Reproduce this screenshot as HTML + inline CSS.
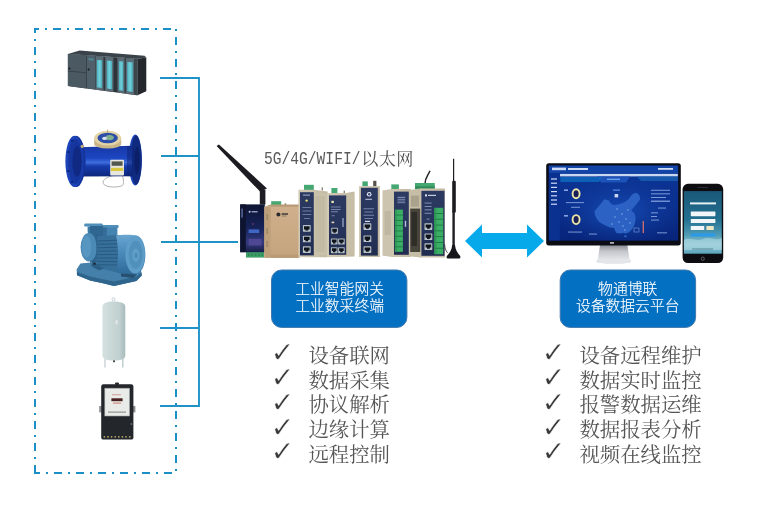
<!DOCTYPE html>
<html lang="zh-CN">
<head>
<meta charset="utf-8">
<title>工业智能网关 - 设备数据云平台</title>
<style>
html,body{margin:0;padding:0;background:#fff;}
body{width:763px;height:519px;overflow:hidden;position:relative;}
svg{position:absolute;left:0;top:0;display:block;will-change:transform;}
.song{font-family:"Liberation Serif","Noto Serif CJK SC",serif;}
.hei{font-family:"Liberation Sans","Noto Sans CJK SC",sans-serif;}
.chk{font-family:"DejaVu Sans","Liberation Sans",sans-serif;}
.label{will-change:transform;position:absolute;left:264.2px;top:144px;height:30px;white-space:nowrap;color:#505050;font-size:17.2px;line-height:30px;font-weight:400;font-family:"Liberation Mono","Noto Serif CJK SC",serif;letter-spacing:0.3px;}
.label .lat{display:inline-block;color:#5a5a5a;font-family:"Liberation Mono","Noto Serif CJK SC",monospace;font-size:14.62px;font-weight:400;letter-spacing:0;line-height:16px;height:16px;transform:scaleY(1.22);transform-origin:0 12px;margin-right:-0.1px;}
.label .cjk{font-family:"Liberation Serif","Noto Serif CJK SC",serif;position:relative;top:1.2px;left:0.9px;}
</style>
</head>
<body>
<svg width="763" height="519" viewBox="0 0 763 519">
<rect width="763" height="519" fill="#ffffff"/>

<!-- ===== dashed frame ===== -->
<g id="frame" stroke="#1a90c6" stroke-width="2" fill="none">
  <line x1="34" y1="29" x2="173" y2="29" stroke-dasharray="5 6 2 6 8 6 2 6 8 6 2 6 8 6 2 6 8 6 2 6 8 6 2 6 8 6 2 6 8 60"/>
  <line x1="176" y1="29" x2="176" y2="472" stroke-dasharray="2 6 8 6"/>
  <line x1="34" y1="473" x2="173" y2="473" stroke-dasharray="6 6 2 6 8 6 2 6 8 6 2 6 8 6 2 6 8 6 2 6 8 6 2 6 8 6 2 6 8 60"/>
  <line x1="35" y1="28" x2="35" y2="474" stroke-dasharray="5 6 2 6 8 6 2 6 8 6 2 6 8 6 2 6 8 6 2 6 8 6 2 6 8 6 2 6 8 6 2 6 8 6 2 6 8 6 2 6 8 6 2 6 8 6 2 6 8 6 2 6 8 6 2 6 8 6 2 6 8 6 2 6 8 6 2 6 8 6 2 6 8 6 2 6 8 6 2 6 8 6 2 6 8 6 2 6 8 6 2 6 9 60"/>
</g>

<!-- ===== connectors ===== -->
<g id="wires" stroke="#1f93c8" stroke-width="1.9" fill="none" stroke-linecap="butt">
  <path d="M160 78 H199 V406 H160"/>
  <path d="M161 156 H199"/>
  <path d="M161 242 H238"/>
  <path d="M160 328 H199"/>
</g>

<!-- ===== arrow ===== -->
<polygon id="arrow" fill="#06aaeb" points="465,241 482,224.5 482,233 527,233 527,224.5 544,241 527,257.5 527,249 482,249 482,257.5"/>

<!-- ===== blue boxes ===== -->
<rect x="271.5" y="270" width="135.4" height="57.4" rx="10" ry="10" fill="#0470c2" stroke="#3f78ae" stroke-width="1"/>
<rect x="560.2" y="270" width="135.4" height="57.4" rx="10" ry="10" fill="#0470c2" stroke="#3f78ae" stroke-width="1"/>
<g class="hei" font-size="14.8" fill="#ffffff" text-anchor="middle" font-weight="300" stroke="#ffffff" stroke-width="0.15">
  <text x="339.6" y="294.3">工业智能网关</text>
  <text x="339.6" y="311.2">工业数采终端</text>
  <text x="627.7" y="294.3">物通博联</text>
  <text x="627.7" y="311.2">设备数据云平台</text>
</g>

<!-- ===== check lists ===== -->
<g class="song" font-size="20.4" font-weight="400" fill="#555555">
  <text x="308.4" y="362.7">设备联网</text>
  <text x="308.4" y="387.5">数据采集</text>
  <text x="308.4" y="412.3">协议解析</text>
  <text x="308.4" y="437.1">边缘计算</text>
  <text x="308.4" y="461.9">远程控制</text>
  <text x="579.4" y="362.7">设备远程维护</text>
  <text x="579.4" y="387.5">数据实时监控</text>
  <text x="579.4" y="412.3">报警数据运维</text>
  <text x="579.4" y="437.1">数据报表分析</text>
  <text x="579.4" y="461.9">视频在线监控</text>
</g>
<g class="chk" font-size="24" fill="#3a3a3a" stroke="#ffffff" stroke-width="0.4">
  <text transform="translate(270.6 362.2) scale(1.2 1.18)" x="0" y="0">✓</text>
  <text transform="translate(270.6 387.0) scale(1.2 1.18)" x="0" y="0">✓</text>
  <text transform="translate(270.6 411.8) scale(1.2 1.18)" x="0" y="0">✓</text>
  <text transform="translate(270.6 436.6) scale(1.2 1.18)" x="0" y="0">✓</text>
  <text transform="translate(270.6 461.4) scale(1.2 1.18)" x="0" y="0">✓</text>
  <text transform="translate(541.6 362.2) scale(1.2 1.18)" x="0" y="0">✓</text>
  <text transform="translate(541.6 387.0) scale(1.2 1.18)" x="0" y="0">✓</text>
  <text transform="translate(541.6 411.8) scale(1.2 1.18)" x="0" y="0">✓</text>
  <text transform="translate(541.6 436.6) scale(1.2 1.18)" x="0" y="0">✓</text>
  <text transform="translate(541.6 461.4) scale(1.2 1.18)" x="0" y="0">✓</text>
</g>

<defs>
  <linearGradient id="gTeal" x1="0" x2="1" y1="0" y2="0">
    <stop offset="0" stop-color="#48b0be"/><stop offset=".5" stop-color="#74d0da"/><stop offset="1" stop-color="#46aebc"/>
  </linearGradient>
  <linearGradient id="gPlc" x1="0" x2="0" y1="0" y2="1">
    <stop offset="0" stop-color="#4b5961"/><stop offset="1" stop-color="#55646d"/>
  </linearGradient>
  <linearGradient id="gPipe" x1="0" x2="0" y1="0" y2="1">
    <stop offset="0" stop-color="#1838a6"/><stop offset=".4" stop-color="#1c46c2"/><stop offset=".54" stop-color="#3f6ddc"/><stop offset=".66" stop-color="#173cae"/><stop offset="1" stop-color="#0c257a"/>
  </linearGradient>
  <linearGradient id="gFl" x1="0" x2="1" y1="0" y2="0">
    <stop offset="0" stop-color="#2149c4"/><stop offset="1" stop-color="#12308f"/>
  </linearGradient>
  <linearGradient id="gMotor" x1="0" x2="0" y1="0" y2="1">
    <stop offset="0" stop-color="#6aa6d0"/><stop offset=".35" stop-color="#4f90c0"/><stop offset="1" stop-color="#2f6a98"/>
  </linearGradient>
  <linearGradient id="gTank" x1="0" x2="1" y1="0" y2="0">
    <stop offset="0" stop-color="#d6e1e1"/><stop offset=".3" stop-color="#ccd9d9"/><stop offset=".75" stop-color="#c0cfcf"/><stop offset="1" stop-color="#a9bbbc"/>
  </linearGradient>
</defs>

<!-- ===== PLC ===== -->
<g id="plc">
  <polygon points="67.9,54 79.7,50.6 144.6,55.8 146.3,57.6 137.5,58.8" fill="#3a434a"/>
  <polygon points="137.5,58.7 146.3,57.6 146.3,91.2 137.5,95.3" fill="#24282d"/>
  <polygon points="67.9,54.0 137.5,58.7 137.5,95.3 67.9,85.9" fill="#2c343a"/>
  <polygon points="67.9,54.0 86.4,55.2 86.4,88.4 67.9,85.9" fill="#4a5962"/>
  <polygon points="87.0,55.3 95.6,55.9 95.6,89.6 87.0,88.5" fill="#50606a"/>
  <polygon points="96.0,55.9 103.4,56.4 103.4,90.7 96.0,89.7" fill="#5b6b75"/>
  <polygon points="105.2,56.5 113.4,57.1 113.4,92.0 105.2,90.9" fill="#5b6b75"/>
  <polygon points="117.4,57.3 124.6,57.8 124.6,93.6 117.4,92.6" fill="#5b6b75"/>
  <polygon points="125.8,57.9 134.2,58.5 134.2,94.9 125.8,93.7" fill="#5b6b75"/>
  <polygon points="134.6,58.5 137.5,58.7 137.5,95.3 134.6,94.9" fill="#3b464d"/>
  <polygon points="96.8,59.9 102.1,60.2 102.1,87.9 96.8,87.2" fill="url(#gTeal)"/>
  <polygon points="106.8,60.5 112.1,60.9 112.1,89.3 106.8,88.6" fill="url(#gTeal)"/>
  <polygon points="118.9,61.3 123.3,61.6 123.3,90.8 118.9,90.2" fill="url(#gTeal)"/>
  <polygon points="127.2,61.9 132.8,62.3 132.8,92.1 127.2,91.3" fill="url(#gTeal)"/>
  <line x1="67.9" y1="71.0" x2="86.4" y2="72.8" stroke="#343e45" stroke-width="0.8"/>
  <circle cx="69.4" cy="68.6" r="1" fill="#14181c"/>
  <circle cx="88.6" cy="69.6" r="1" fill="#14181c"/>
  <polygon points="88.6,58 93.6,58.4 93.6,60.6 88.6,60.2" fill="#4f9aa4" opacity=".7"/>
</g>

<!-- ===== flow meter ===== -->
<g id="flow">
  <path d="M113 175.6 C108 177 101.6 179.4 103.4 183.6 C105.4 188 119 187.6 122.2 185.6 C124.4 184.2 123.4 179 122.6 175.8" fill="none" stroke="#8f8f8f" stroke-width="0.7"/>
  <!-- right flange -->
  <ellipse cx="135.3" cy="160" rx="6.6" ry="25.4" fill="#1a41b2"/>
  <ellipse cx="136.2" cy="160" rx="5.4" ry="24.4" fill="#0f2a7e"/>
  <ellipse cx="137" cy="160.4" rx="2.6" ry="14" fill="#0b2068"/>
  <!-- body -->
  <path d="M78 147.2 L132 145.8 V176.2 L78 176.6 Z" fill="url(#gPipe)"/>
  <path d="M127 146 H133.4 V176.2 H127 Z" fill="#0e2678" opacity=".55"/>
  <!-- left flange -->
  <ellipse cx="76" cy="161.4" rx="9.6" ry="25.7" fill="#14349a"/>
  <ellipse cx="74.4" cy="161.4" rx="9" ry="25.6" fill="#1c43b8"/>
  <ellipse cx="75.4" cy="161.4" rx="7.2" ry="22.6" fill="#15369e"/>
  <ellipse cx="77" cy="161.4" rx="4.6" ry="15.4" fill="#102a84"/>
  <circle cx="72" cy="140.6" r="0.9" fill="#0a1c5c"/><circle cx="68.4" cy="152" r="0.9" fill="#0a1c5c"/><circle cx="68.4" cy="171" r="0.9" fill="#0a1c5c"/><circle cx="72" cy="182" r="0.9" fill="#0a1c5c"/>
  <circle cx="82.2" cy="146.4" r="1.6" fill="#c7ad78"/>
  <!-- dial -->
  <path d="M94.2 138.6 V144 A13.5 4.6 0 0 0 121.2 144 V138.6 Z" fill="#c9b586"/>
  <ellipse cx="107.7" cy="138.2" rx="13.5" ry="7.4" fill="#e2d3a6"/>
  <ellipse cx="107.7" cy="138" rx="10.2" ry="5.2" fill="#2c4ea8"/>
  <ellipse cx="109.6" cy="137.6" rx="4.2" ry="2.6" fill="#7fae8e"/>
  <ellipse cx="104.6" cy="138.4" rx="2.4" ry="1.6" fill="#d8dff0"/>
  <line x1="107.6" y1="129.6" x2="107.6" y2="133" stroke="#a89870" stroke-width="0.8"/>
  <!-- transmitter -->
  <rect x="110.2" y="159.8" width="13.8" height="15.6" rx="1" fill="#e7e7de"/>
  <rect x="111.6" y="161.4" width="11" height="4.4" fill="#54594f"/>
  <rect x="111" y="167.8" width="12.2" height="3.2" fill="#d9c842"/>
</g>

<!-- ===== pump ===== -->
<g id="pump">
  <!-- base -->
  <path d="M76.6 269.4 L80.4 263.6 L101 261.6 L120 266 L141 270.2 L141.8 275.6 L136.4 281 L114 286 L104 283.6 L90 280.4 L77 275.2 Z" fill="#4480aa"/>
  <path d="M77 272 L90 276.6 L104 279.6 L114 281.6 L136.4 276.6 L141.6 272.6 L141.8 275.6 L136.4 281 L114 286 L104 283.6 L90 280.4 L77 275.2 Z" fill="#2f658c"/>
  <!-- inlet flange + pipe -->
  <rect x="84.2" y="223.6" width="18.6" height="3" rx="1.2" fill="#4f8fba"/>
  <path d="M87.6 226.4 H99.6 V233 C99.6 237 97.6 239.4 96.4 241.6 L88 241.6 C89.4 237.6 87.6 233 87.6 230 Z" fill="#3c7aa6"/>
  <path d="M91 226.4 H94 V240 H91 Z" fill="#2c5f88" opacity=".6"/>
  <!-- terminal box -->
  <rect x="100.8" y="225" width="17.8" height="3" rx="1" fill="#4f8fba"/>
  <rect x="102.4" y="227.6" width="15" height="9.4" fill="#4584b0"/>
  <rect x="102.4" y="227.6" width="4.4" height="9.4" fill="#336d98"/>
  <path d="M90 226 H103 V262.6 H90 Z" fill="#2f668f"/>
  <!-- volute -->
  <ellipse cx="88.8" cy="247.2" rx="8.2" ry="14.2" fill="#4a8ab4"/>
  <ellipse cx="86.6" cy="246.6" rx="4.6" ry="11" fill="#5796c0"/>
  <path d="M92.4 234.6 C97.4 236 98 258 93 261.2 L99 262 L99 235.6 Z" fill="#2d638c"/>
  <!-- motor ribbed body -->
  <path d="M97 236.6 C101 235.4 118 235 124 235.6 V273 C117 272.6 102 270 97 266 Z" fill="#356f9a"/>
  <g stroke="#27587e" stroke-width="0.9">
    <line x1="97.4" y1="241" x2="123" y2="240"/><line x1="97.4" y1="244.4" x2="123" y2="243.6"/>
    <line x1="97.4" y1="247.8" x2="123" y2="247.2"/><line x1="97.4" y1="251.2" x2="123" y2="250.8"/>
    <line x1="97.4" y1="254.6" x2="123" y2="254.4"/><line x1="97.4" y1="258" x2="123" y2="258"/>
    <line x1="97.4" y1="261.4" x2="123" y2="261.6"/><line x1="97.4" y1="264.6" x2="123" y2="265.2"/>
  </g>
  <!-- motor cover -->
  <path d="M116 235.4 C122 234.4 133 234.4 137 235.6 C142.6 237.4 145.4 246 145.4 254.4 C145.4 263.4 142.4 272 137 273.6 C132 274.8 122 274.4 116 272.6 C118.6 262 118.6 246 116 235.4 Z" fill="url(#gMotor)"/>
  <ellipse cx="135.2" cy="254.6" rx="9.8" ry="18.8" fill="#5e9dc8"/>
  <ellipse cx="135.6" cy="254.8" rx="7" ry="14" fill="#5090bd"/>
  <ellipse cx="135.8" cy="255.2" rx="3.4" ry="6.6" fill="#5f9fc8"/>
  <ellipse cx="136" cy="255.4" rx="1.4" ry="2.6" fill="#4b88b4"/>
  <!-- feet / shadow -->
  <path d="M93 260.6 L97.4 264.4 L104 268.4 L99 270.4 L91 266 Z" fill="#2c5f86"/>
  <circle cx="94.6" cy="263.8" r="1.3" fill="#1d2d3c"/>
  <path d="M121 273.4 L137 274.4 L133 278 L121 276.6 Z" fill="#274f70"/>
</g>

<!-- ===== tank ===== -->
<g id="tank">
  <circle cx="113.5" cy="299.3" r="1.5" fill="none" stroke="#bfcbd0" stroke-width="0.9"/>
  <line x1="105" y1="357" x2="105" y2="367.4" stroke="#c6d2d3" stroke-width="1.4"/>
  <line x1="122.8" y1="357" x2="122.8" y2="367.4" stroke="#bccacb" stroke-width="1.4"/>
  <path d="M102.4 307 C102.4 303 107 301.6 113.8 301.6 C120.6 301.6 125.3 303 125.3 307 V355.5 C125.3 359 120.6 360.6 113.8 360.6 C107 360.6 102.4 359 102.4 355.5 Z" fill="url(#gTank)"/>
  <rect x="113" y="360.4" width="2" height="1.8" fill="#44484c"/>
  <ellipse cx="116.6" cy="322" rx="1.2" ry="2.6" fill="#dfe7ea"/>
</g>

<!-- ===== electric meter ===== -->
<g id="meter">
  <rect x="99.2" y="406" width="2.4" height="6.4" fill="#8a8f92"/>
  <rect x="133" y="406" width="2.4" height="6.4" fill="#8a8f92"/>
  <rect x="115" y="382.4" width="4" height="2.6" rx="1" fill="#2a2d31"/>
  <rect x="101.2" y="384.2" width="32.2" height="55.4" rx="2.2" fill="#23262b"/>
  <rect x="104.8" y="388.2" width="24.8" height="27.8" fill="#e8ebe7"/>
  <rect x="104.8" y="388.2" width="24.8" height="27.8" fill="none" stroke="#9aa0a0" stroke-width="0.6"/>
  <rect x="111.4" y="398.3" width="11.2" height="2.9" fill="#4a2020"/>
  <rect x="113" y="402.6" width="8" height="1" fill="#d07a6a"/>
  <rect x="108" y="411.6" width="18" height="1" fill="#7c8484"/>
  <rect x="112" y="394.4" width="9" height="0.8" fill="#c88"/>
  <g fill="#b8a868">
    <circle cx="104.4" cy="436.8" r="0.9"/><circle cx="108" cy="436.8" r="0.9"/><circle cx="111.6" cy="436.8" r="0.9"/>
    <circle cx="115.2" cy="436.8" r="0.9"/><circle cx="118.8" cy="436.8" r="0.9"/><circle cx="122.4" cy="436.8" r="0.9"/>
    <circle cx="126" cy="436.8" r="0.9"/><circle cx="129.8" cy="436.8" r="0.9"/>
  </g>
  <circle cx="131.4" cy="424" r="0.9" fill="#6a6e70"/>
</g>

<defs>
  <linearGradient id="gNavy" x1="0" x2="0" y1="0" y2="1">
    <stop offset="0" stop-color="#2c3a62"/><stop offset=".5" stop-color="#27345c"/><stop offset="1" stop-color="#212c50"/>
  </linearGradient>
  <linearGradient id="gNavy1" x1="0" x2="0" y1="0" y2="1">
    <stop offset="0" stop-color="#0e1433"/><stop offset=".5" stop-color="#162359"/><stop offset=".8" stop-color="#343a7e"/><stop offset="1" stop-color="#181f48"/>
  </linearGradient>
  <linearGradient id="gTan" x1="0" x2="0" y1="0" y2="1">
    <stop offset="0" stop-color="#d0b08c"/><stop offset="1" stop-color="#c3a47e"/>
  </linearGradient>
  <linearGradient id="gBeige" x1="0" x2="1" y1="0" y2="0">
    <stop offset="0" stop-color="#d3cab6"/><stop offset="1" stop-color="#c3b9a3"/>
  </linearGradient>
  <g id="rj">
    <rect x="-3.9" y="-3.3" width="7.8" height="6.6" rx="0.6" fill="#b9c1c8"/>
    <path d="M-2.8 -2.2 H2.8 V1 H1.4 V2.2 H-1.4 V1 H-2.8 Z" fill="#10141c"/>
  </g>
  <g id="rjs">
    <rect x="-3.3" y="-3" width="6.6" height="6" rx="0.5" fill="#b3bbc3"/>
    <path d="M-2.3 -2 H2.3 V0.9 H1.2 V2 H-1.2 V0.9 H-2.3 Z" fill="#10141c"/>
  </g>
</defs>

<!-- ===== big whip antenna ===== -->
<g id="ant1">
  <polygon points="216.6,146 218.9,144.4 267,188.4 260,191.6" fill="#1b1b21"/>
  <rect x="259.8" y="189.6" width="5.6" height="15" fill="#1d1d23"/>
</g>

<!-- ===== device 1 : navy box ===== -->
<g id="dev1">
  <rect x="246" y="251.6" width="18.2" height="6" fill="#3f9f6c"/>
  <g fill="#2c8a52"><rect x="248" y="253.4" width="1.6" height="2.6"/><rect x="251.4" y="253.4" width="1.6" height="2.6"/><rect x="254.8" y="253.4" width="1.6" height="2.6"/><rect x="258.2" y="253.4" width="1.6" height="2.6"/><rect x="261.4" y="253.4" width="1.6" height="2.6"/></g>
  <rect x="240.2" y="204.4" width="24.6" height="47.8" fill="url(#gNavy1)"/>
  <rect x="240.2" y="204.4" width="5.6" height="47.8" fill="#0e1430"/>
  <rect x="241.2" y="208.6" width="1.8" height="9" fill="#4a5788"/>
  <circle cx="249.6" cy="211.8" r="1" fill="#c8d2ee"/>
  <rect x="251.6" y="211.2" width="6" height="1.2" fill="#aab6da"/>
  <rect x="248.6" y="229.4" width="10.6" height="3.6" fill="#3f66c4"/>
  <rect x="248.6" y="238.8" width="13" height="6.8" fill="#5a4fa0" opacity=".7"/>
  <circle cx="253" cy="224" r="0.7" fill="#c04060"/>
</g>

<!-- ===== device 2 : tan box ===== -->
<g id="dev2">
  <rect x="271.2" y="201.2" width="10" height="5.4" fill="#45a873"/>
  <rect x="284.6" y="203.4" width="1.6" height="3.6" fill="#8a7a5c"/>
  <polygon points="264.4,206.8 270.4,204.6 299,204.6 299,207.2" fill="#b89a76"/>
  <rect x="264.4" y="206.8" width="34.8" height="51" fill="url(#gTan)"/>
  <rect x="264.4" y="206.8" width="6.2" height="51" fill="#bd9f7a"/>
  <rect x="266.4" y="214" width="1.6" height="6" fill="#9d8a6c"/><rect x="266.4" y="228" width="1.6" height="6" fill="#9d8a6c"/><rect x="266.4" y="241" width="1.6" height="6" fill="#9d8a6c"/>
  <circle cx="278.4" cy="214.4" r="2" fill="#2c2c30"/>
  <rect x="281.6" y="213.2" width="6.4" height="1.6" fill="#4a443c"/>
  <rect x="281.6" y="215.6" width="5" height="0.8" fill="#7a6e5c"/>
  <rect x="270.6" y="254.6" width="28.6" height="3.2" fill="#b89a74"/>
</g>

<!-- ===== device 3 ===== -->
<g id="dev3">
  <rect x="304" y="184.8" width="9.8" height="5.4" fill="#45a873"/>
  <rect x="321.6" y="187.4" width="1.4" height="3" fill="#8a8676"/>
  <polygon points="298.4,189.8 313.8,189.8 327.6,191.4 327.6,257.2 298.4,257.2" fill="url(#gBeige)"/>
  <polygon points="313.8,192 327.6,193.4 327.6,255 313.8,255.4" fill="#c9c1aa"/>
  <rect x="315.6" y="196" width="9" height="56" fill="#bdb49c" opacity=".55"/>
  <rect x="300" y="192.2" width="13.8" height="63.2" fill="url(#gNavy)"/>
  <circle cx="306.6" cy="200.6" r="1.2" fill="#e6dc70"/>
  <rect x="303" y="194.6" width="7" height="1" fill="#aab3cc"/>
  <g fill="#7e8bb0"><rect x="302.4" y="207" width="9" height="0.8"/><rect x="302.4" y="210.6" width="9" height="0.8"/><rect x="302.4" y="214.2" width="9" height="0.8"/><rect x="304" y="218" width="6" height="0.8"/></g>
  <use href="#rj" x="306.8" y="228.4"/><use href="#rj" x="306.8" y="239"/><use href="#rj" x="306.8" y="249.6"/>
</g>

<!-- ===== device 4 ===== -->
<g id="dev4">
  <rect x="331.4" y="188" width="6" height="5.4" fill="#45a873"/>
  <rect x="343.6" y="190.6" width="1.4" height="2.6" fill="#8a8676"/>
  <polygon points="327.4,193 346.2,193 354.4,191.4 354.4,256.6 327.4,257.2" fill="url(#gBeige)"/>
  <polygon points="346.2,194.6 354.4,193 354.4,255 346.2,255" fill="#c6bea6"/>
  <rect x="329" y="195.4" width="17.2" height="59.4" fill="url(#gNavy)"/>
  <rect x="331.4" y="200.8" width="2.4" height="2.2" fill="#efe9b8"/>
  <g fill="#8b97ba"><rect x="331" y="206.6" width="9.6" height="0.8"/><rect x="331" y="209" width="9.6" height="0.8"/><rect x="331" y="211.4" width="7" height="0.8"/><rect x="331.6" y="215.4" width="3" height="0.8"/></g>
  <rect x="331.6" y="221.6" width="2.6" height="1.6" fill="#e8d8b8"/>
  <rect x="342.2" y="218" width="1.6" height="9" fill="#9aa6c8" opacity=".8"/>
  <use href="#rjs" x="334.6" y="230.8"/>
  <use href="#rjs" x="334.2" y="241.4"/><use href="#rjs" x="341.4" y="241.4"/>
  <use href="#rjs" x="334.2" y="250.2"/><use href="#rjs" x="341.4" y="250.2"/>
</g>

<!-- ===== device 5 ===== -->
<g id="dev5">
  <rect x="362.4" y="181.4" width="5.4" height="5" fill="#45a873"/>
  <rect x="373.2" y="180.8" width="3.2" height="5.6" fill="#55504a"/>
  <rect x="359" y="186.2" width="20.8" height="70.8" fill="url(#gBeige)"/>
  <rect x="360.9" y="187.8" width="16.9" height="67.8" fill="url(#gNavy)"/>
  <circle cx="369.2" cy="194.2" r="2.3" fill="#e8ebf2"/>
  <circle cx="369.2" cy="194.2" r="1.2" fill="#3a4a78"/>
  <rect x="365.4" y="198.8" width="6.6" height="1" fill="#c6cde0"/>
  <g fill="#8b97ba"><rect x="363.4" y="208.4" width="10.6" height="0.8"/><rect x="364.4" y="211.6" width="8.6" height="0.8"/><rect x="363.4" y="214.8" width="10.6" height="0.8"/><rect x="364.4" y="218" width="8.6" height="0.8"/></g>
  <rect x="365" y="220.8" width="5" height="1.2" fill="#d8dce8"/>
  <use href="#rj" x="367.4" y="226.6"/><use href="#rj" x="367.4" y="238.8"/><use href="#rj" x="367.4" y="249.6"/>
</g>

<!-- ===== device 6 ===== -->
<g id="dev6">
  <rect x="391.3" y="184.4" width="7.6" height="5" fill="#45a873"/>
  <polygon points="382.7,190.6 393.6,189 410.8,189 410.8,257 393.6,257 382.7,255.6" fill="url(#gBeige)"/>
  <polygon points="382.7,190.6 393.6,189 393.6,257 382.7,255.6" fill="#cdc4b0"/>
  <rect x="384.6" y="211" width="6.4" height="24" fill="#c0b7a2"/>
  <rect x="394" y="191.6" width="14.8" height="63.2" fill="url(#gNavy)"/>
  <rect x="397.2" y="195.8" width="8.2" height="8" fill="#3a4a72"/>
  <g fill="#8b97ba"><rect x="397.6" y="197" width="7.4" height="0.8"/><rect x="397.6" y="199.4" width="7.4" height="0.8"/><rect x="397.6" y="201.8" width="7.4" height="0.8"/></g>
  <rect x="394.9" y="209.6" width="8" height="42.2" fill="#3bae66"/>
  <g fill="#1f7a42"><rect x="394.9" y="214.6" width="8" height="0.9"/><rect x="394.9" y="219.9" width="8" height="0.9"/><rect x="394.9" y="225.2" width="8" height="0.9"/><rect x="394.9" y="230.5" width="8" height="0.9"/><rect x="394.9" y="235.8" width="8" height="0.9"/><rect x="394.9" y="241.1" width="8" height="0.9"/><rect x="394.9" y="246.4" width="8" height="0.9"/></g>
  <rect x="394.9" y="209.6" width="2.2" height="42.2" fill="#2a8a4e" opacity=".55"/>
  <rect x="404.8" y="220.8" width="1.4" height="6" fill="#c8d0e6" opacity=".9"/>
</g>

<!-- ===== device 7 ===== -->
<g id="dev7">
  <path d="M424.9 184 C424.9 178 428 175.6 430 170.8" fill="none" stroke="#26262a" stroke-width="1.5"/>
  <rect x="415" y="183" width="19.8" height="5.8" fill="#45a873"/>
  <rect x="415" y="186.4" width="19.8" height="2.4" fill="#2f8a58"/>
  <polygon points="409.2,190.2 421.2,188.6 445,188.6 445,257.4 421.2,257.4 409.2,256" fill="url(#gBeige)"/>
  <polygon points="409.2,190.2 421.2,188.6 421.2,257.4 409.2,256" fill="#c6bda6"/>
  <rect x="410.2" y="208.6" width="10" height="43.4" fill="#47443b"/>
  <rect x="411.4" y="212" width="5.6" height="34" fill="#2e2d28"/>
  <rect x="411" y="195.6" width="8" height="11" fill="#aaa28c"/>
  <rect x="421.4" y="190.8" width="23.1" height="65" fill="url(#gNavy)"/>
  <rect x="425" y="194.4" width="2" height="2" fill="#dfe4f0"/><rect x="428" y="194.8" width="8" height="1.2" fill="#c6cde0"/>
  <g fill="#8b97ba"><rect x="424.6" y="202.6" width="7" height="0.9"/><rect x="424.6" y="206" width="7" height="0.9"/><rect x="424.6" y="209.4" width="7" height="0.9"/><rect x="424.6" y="212.8" width="7" height="0.9"/><rect x="426.6" y="218.6" width="3" height="0.9"/></g>
  <rect x="434.2" y="207.8" width="9" height="46.4" fill="#3bae66"/>
  <g fill="#1f7a42"><rect x="434.2" y="213" width="9" height="0.9"/><rect x="434.2" y="218.8" width="9" height="0.9"/><rect x="434.2" y="224.6" width="9" height="0.9"/><rect x="434.2" y="230.4" width="9" height="0.9"/><rect x="434.2" y="236.2" width="9" height="0.9"/><rect x="434.2" y="242" width="9" height="0.9"/><rect x="434.2" y="247.8" width="9" height="0.9"/></g>
  <rect x="434.2" y="207.8" width="2.4" height="46.4" fill="#2a8a4e" opacity=".55"/>
  <use href="#rj" x="428.4" y="226.6"/><use href="#rj" x="428.4" y="236.8"/><use href="#rj" x="428.4" y="246.6"/>
</g>

<!-- ===== thin magnetic antenna ===== -->
<g id="ant2">
  <path d="M447.6 252.8 C445.4 250.6 444.8 247.6 444.6 244.2" fill="none" stroke="#2a2a2e" stroke-width="0.8"/>
  <line x1="453.6" y1="158.8" x2="453.6" y2="182" stroke="#1e1e22" stroke-width="1.2"/>
  <rect x="452.2" y="180.8" width="3.6" height="32" rx="1.2" fill="#1c1c20"/>
  <line x1="453.6" y1="211" x2="453.6" y2="248" stroke="#1e1e22" stroke-width="2.4"/>
  <path d="M452.2 245 H455 C455.4 250 457.6 253 460.2 256 Q461 258.6 459 258.6 H448 Q446 258.6 446.8 256 C449.6 253 451.8 250 452.2 245 Z" fill="#17171b"/>
</g>

<defs>
  <linearGradient id="gScr" x1="0" x2="0" y1="0" y2="1">
    <stop offset="0" stop-color="#0c3696"/><stop offset=".5" stop-color="#0a2f8e"/><stop offset="1" stop-color="#08247a"/>
  </linearGradient>
  <radialGradient id="gScrC" cx=".5" cy=".55" r=".55">
    <stop offset="0" stop-color="#164fba" stop-opacity=".9"/><stop offset="1" stop-color="#1240a0" stop-opacity="0"/>
  </radialGradient>
  <linearGradient id="gStand" x1="0" x2="0" y1="0" y2="1">
    <stop offset="0" stop-color="#8b8f95"/><stop offset=".35" stop-color="#c4c7cc"/><stop offset=".8" stop-color="#e4e6e9"/><stop offset="1" stop-color="#d5d8dc"/>
  </linearGradient>
  <linearGradient id="gPhone" x1="0" x2="0" y1="0" y2="1">
    <stop offset="0" stop-color="#1a5878"/><stop offset=".45" stop-color="#236f90"/><stop offset=".7" stop-color="#4f9bb4"/><stop offset=".85" stop-color="#8cc5d3"/><stop offset="1" stop-color="#5aa5bb"/>
  </linearGradient>
</defs>

<!-- ===== monitor ===== -->
<g id="monitor">
  <path d="M600 245 H627.4 L629.4 258.6 Q631 260.4 631 261.6 Q631 263.6 613.7 263.6 Q596.4 263.6 596.4 261.6 Q596.4 260.4 598 258.6 Z" fill="url(#gStand)"/>
  <ellipse cx="613.7" cy="261.4" rx="17.3" ry="2.2" fill="#e3e6e9"/>
  <rect x="546.2" y="163.3" width="134.6" height="82.1" rx="2.6" fill="#0b0c14"/>
  <rect x="548.8" y="165.7" width="129.4" height="74.9" fill="url(#gScr)"/>
  <rect x="560" y="176.6" width="117.8" height="63.8" fill="url(#gScrC)"/>
  <rect x="548.9" y="165.6" width="128.9" height="7.6" fill="#1243a6"/>
  <rect x="560" y="173.9" width="117.8" height="2.5" fill="#c9d8f2"/>
  <rect x="548.9" y="173.2" width="11" height="67.2" fill="#0b3190"/>
  <g fill="#cfdcf6">
    <rect x="552" y="167.6" width="14" height="2.6"/><rect x="568" y="168" width="20" height="2"/>
    <rect x="658" y="168" width="15" height="1.8"/>
    <rect x="551" y="178.4" width="6" height="1.2"/><rect x="551" y="182.6" width="6" height="1.2"/><rect x="551" y="186.8" width="6" height="1.2"/>
    <rect x="551" y="191" width="6" height="1.2"/><rect x="551" y="195.2" width="6" height="1.2"/><rect x="551" y="199.4" width="6" height="1.2"/><rect x="551" y="203.6" width="6" height="1.2"/>
  </g>
  <polygon points="597,176.6 630,176.6 626,182.6 601,182.6" fill="#1d52b8"/>
  <polygon points="560.4,177 602,177 599,182 560.4,182" fill="#0f6cc0" opacity=".8"/>
  <polygon points="637,176.6 677.8,176.6 677.8,181 641,181" fill="#1b6ab6" opacity=".7"/>
  <rect x="607" y="178.6" width="13" height="1.4" fill="#6aa0ee"/>
  <!-- map -->
  <path d="M594.3 211.5 L598 207 L601 203.4 L604.3 199.3 L608.7 200.4 L611 203.6 L613.1 204.9 L618 204.6 L622 203.3 L625.6 201.6 L628.6 199.3 L630.4 196.4 L632 194.4 L635.3 192.7 L638 193.8 L639.7 196 L640.2 199.3 L638.2 202 L636.4 204.2 L633.1 208.2 L631.3 210.4 L632.8 212 L634.2 213 L635.2 216 L635.7 219.3 L634.8 223.4 L633.5 227 L631.2 230.2 L628.6 232.6 L625.8 233.6 L623.1 233 L619.8 233.6 L616.4 233 L615 230.4 L614.2 228.1 L610.2 227.6 L606.5 225.9 L602.4 224 L598.7 221.5 L596.8 218.8 L595.4 215.9 Z" fill="#2b62c4"/>
  <ellipse cx="625.4" cy="236.2" rx="1.4" ry="1" fill="#2b62c4"/>
  <g fill="#9fc0f4" opacity=".9">
    <circle cx="622" cy="214" r=".7"/><circle cx="626" cy="219" r=".7"/><circle cx="619" cy="222" r=".7"/><circle cx="628" cy="210" r=".7"/><circle cx="615" cy="217" r=".7"/>
    <circle cx="623" cy="226" r=".7"/><circle cx="630" cy="223" r=".7"/><circle cx="612" cy="224" r=".7"/><circle cx="617" cy="209" r=".7"/><circle cx="625" cy="230" r=".7"/>
  </g>
  <rect x="614.6" y="194" width="3.6" height="3.4" fill="#dfe9fb" opacity=".9"/>
  <rect x="613" y="189.6" width="7" height="1" fill="#6aa0ee"/>
  <!-- rings -->
  <ellipse cx="576.1" cy="193.8" rx="3.5" ry="4.5" fill="#1a1f58" stroke="#ece6a8" stroke-width="1.9"/>
  <ellipse cx="576.1" cy="219.6" rx="3.5" ry="4.5" fill="#1a1f58" stroke="#ece6a8" stroke-width="1.9"/>
  <g fill="#9db8ee" opacity=".85">
    <rect x="564" y="189.4" width="4" height="1.6"/><rect x="564" y="215" width="4" height="1.6"/>
    <rect x="566" y="202.2" width="18" height="0.9"/><rect x="571" y="206.8" width="9" height="0.9"/>
    <rect x="568" y="231.6" width="14" height="0.9"/><rect x="589" y="233.6" width="8" height="0.9"/>
    <rect x="651" y="189.8" width="19" height="0.9"/><rect x="651" y="193.4" width="19" height="0.9"/><rect x="651" y="197" width="15" height="0.9"/><rect x="651" y="200.6" width="19" height="1.2"/>
    <rect x="658" y="207.6" width="8" height="0.9"/>
    <rect x="651" y="212.4" width="7" height="0.9"/><rect x="651" y="216" width="6" height="0.9"/><rect x="651" y="219.6" width="8" height="0.9"/>
    <rect x="657" y="232.4" width="10" height="0.9"/>
  </g>
  <rect x="642.6" y="221" width="1.4" height="12" fill="#c86a6a"/>
  <rect x="634" y="228" width="5" height="4" fill="none" stroke="#8fb0ec" stroke-width=".5"/>
  <rect x="610" y="242.2" width="4" height="1.4" fill="#d8dae0"/>
</g>

<!-- ===== phone ===== -->
<g id="phone">
  <rect x="682.6" y="183.8" width="40.6" height="79.2" rx="5.4" fill="#0c0c11"/>
  <rect x="683.9" y="191.1" width="37.9" height="62.6" fill="url(#gPhone)"/>
  <path d="M683.9 240 C690 236.5 696 242 703 239 C710 236 715 241.6 721.8 238 V250 H683.9 Z" fill="#b7dde6" opacity=".55"/>
  <rect x="690" y="202.4" width="26" height="2" fill="#e6f1f6"/>
  <rect x="690.8" y="211.6" width="24.6" height="4.6" rx=".6" fill="#f2f6f8"/>
  <rect x="690.8" y="218.9" width="24.6" height="4.2" rx=".6" fill="#f2f6f8"/>
  <rect x="690.8" y="225.9" width="13.4" height="4.2" rx=".6" fill="#f2f6f8"/>
  <rect x="706.4" y="225.9" width="7.4" height="4.2" rx=".6" fill="#eee8c4"/>
  <rect x="690.8" y="233.2" width="24.6" height="3.2" rx=".8" fill="#2d9ae8"/>
  <rect x="692" y="248.6" width="21" height=".8" fill="#2c5a6a" opacity=".7"/>
  <rect x="697" y="187" width="11" height="1" rx=".5" fill="#2a2a30"/>
  <circle cx="702.8" cy="258.7" r="1.6" fill="none" stroke="#777a80" stroke-width=".7"/>
</g>


</svg>
<div class="label"><span class="lat">5G/4G/WIFI/</span><span class="cjk">以太网</span></div>
</body>
</html>
